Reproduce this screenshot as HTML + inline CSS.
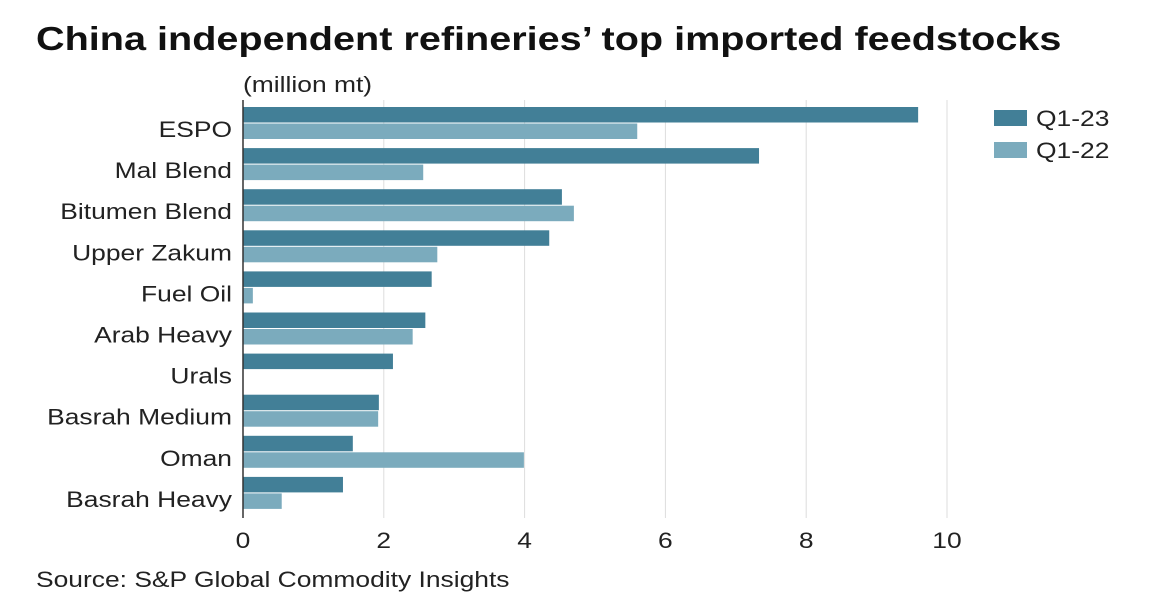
<!DOCTYPE html>
<html><head><meta charset="utf-8"><style>
body{margin:0;background:#fff;font-family:"Liberation Sans",sans-serif;}
#wrap{position:relative;width:1158px;height:614px;overflow:hidden;}
</style></head><body>
<div id="wrap">
<svg id="chart" width="1158" height="614"></svg>
</div>
<script>
const categories=["ESPO","Mal Blend","Bitumen Blend","Upper Zakum","Fuel Oil","Arab Heavy","Urals","Basrah Medium","Oman","Basrah Heavy"];
const q123=[9.59,7.33,4.53,4.35,2.68,2.59,2.13,1.93,1.56,1.42];
const q122=[5.6,2.56,4.70,2.76,0.14,2.41,0,1.92,3.99,0.55];
const ticks=[0,2,4,6,8,10];
const seriesNames=["Q1-23","Q1-22"];
const colors=["#427f97","#7babbd"];
const NS="http://www.w3.org/2000/svg";
const svg=document.getElementById('chart');
const x0=243,pxPer=70.4,rowTop=107,pitch=41.1,barH=15.5;
const X=v=>x0+v*pxPer;
function mk(t,a){const e=document.createElementNS(NS,t);for(const k in a)e.setAttribute(k,a[k]);svg.appendChild(e);return e;}
function stretch(e){const L=e.getComputedTextLength();e.setAttribute('textLength',(L*1.2).toFixed(1));e.setAttribute('lengthAdjust','spacingAndGlyphs');}
let t=mk('text',{x:36,y:50,'font-size':33,'font-weight':'bold',fill:'#111'});t.textContent="China independent refineries’ top imported feedstocks";stretch(t);


t=mk('text',{x:243,y:92,'font-size':22,fill:'#222'});t.textContent="(million mt)";stretch(t);


ticks.forEach(v=>{
 if(v>0){const g=mk('line',{x1:X(v),x2:X(v),y1:100,y2:518,stroke:'#ddd','stroke-width':1});
 
 }
 const l=mk('text',{x:X(v),y:548,'font-size':22,fill:'#222','text-anchor':'middle'});l.textContent=v;stretch(l);
 
 
});
categories.forEach((c,i)=>{
 const y=rowTop+i*pitch;
 const b1=mk('rect',{x:x0,y:y,width:X(q123[i])-x0,height:barH,fill:colors[0]});
 
 
 const b2=mk('rect',{x:x0,y:y+barH+1,width:X(q122[i])-x0,height:barH,fill:colors[1]});
 
 
 const l=mk('text',{x:232,y:y+30,'font-size':22,fill:'#222','text-anchor':'end'});l.textContent=c;stretch(l);
 
 
});
const ax=mk('line',{x1:x0,x2:x0,y1:100,y2:518,stroke:'#333','stroke-width':1.5});


seriesNames.forEach((n,i)=>{
 const y=110+i*32;
 const r=mk('rect',{x:994,y:y,width:33,height:16,fill:colors[i]});
 
 
 const l=mk('text',{x:1036,y:y+16,'font-size':22,fill:'#222'});l.textContent=n;stretch(l);
 
 
});
t=mk('text',{x:36,y:587,'font-size':22,fill:'#222'});t.textContent="Source: S&P Global Commodity Insights";stretch(t);


</script>
</body></html>
